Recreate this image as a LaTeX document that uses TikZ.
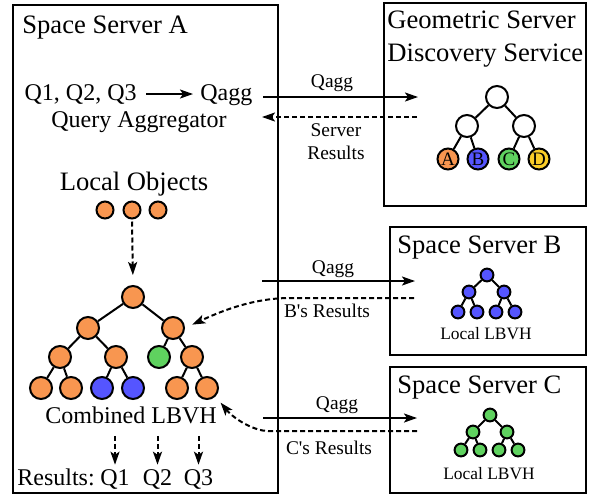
\documentclass[tikz,border=0pt]{standalone}
\usepackage{fontspec}
\setmainfont{Liberation Serif}
\usetikzlibrary{arrows.meta,positioning}

\definecolor{nodeorange}{RGB}{248,150,80}
\definecolor{nodeblue}{RGB}{85,85,255}
\definecolor{nodegreen}{RGB}{95,210,95}
\definecolor{nodeyellow}{RGB}{250,205,40}

\begin{document}
\begin{tikzpicture}[x=0.5pt, y=0.5pt,
  box/.style={draw, line width=1pt},
  title/.style={anchor=base west, inner sep=0pt, font=\fontsize{13.3}{16.5}\selectfont},
  lbl/.style={anchor=base, inner sep=0pt, font=\fontsize{12}{14}\selectfont},
  msg/.style={anchor=base, inner sep=0pt, font=\fontsize{9.7}{11.5}\selectfont},
  obj/.style={circle, draw, line width=1pt, fill=nodeorange, minimum size=11pt, inner sep=0pt},
  loc/.style={obj, minimum size=8.5pt},
  gnode/.style={circle, draw, line width=1pt, fill=white, minimum size=11pt, inner sep=0pt,
    font=\fontsize{9.5}{10}\selectfont},
  tiny/.style={circle, draw, line width=1pt, minimum size=6.4pt, inner sep=0pt},
  edge/.style={line width=1pt},
  arr/.style={-{Stealth[length=6.5pt, width=4.5pt, inset=1.5pt]}, line width=1pt},
  dasharr/.style={arr, dash pattern=on 2.5pt off 1.5pt},
]
\useasboundingbox (0,0) rectangle (593,495);

% Server boxes
\draw[box] (13,2) rectangle (278,490);
\draw[box] (384,289) rectangle (586,492);
\draw[box] (390,140) rectangle (586,268);
\draw[box] (390,2) rectangle (586,128);

% Titles
\node[title] (ta) at (22,462) {Space Server A};
\node[title, anchor=north west, align=left] (tg) at (387,485) {Geometric Server\\Discovery Service};
\node[title] (tb) at (397,242) {Space Server B};
\node[title] (tc) at (397,102) {Space Server C};

% Query aggregator
\node[lbl, anchor=base east, inner xsep=4.5pt] (qs) at (146,395) {Q1, Q2, Q3};
\node[lbl, anchor=base west, inner xsep=3.5pt] (qagg) at (193,395) {Qagg};
\node[lbl] (aggr) at (139,368) {Query Aggregator};
\draw[arr] (qs.east) -- (qs.east -| qagg.west);

% Local objects
\node[lbl, font=\fontsize{13.3}{16}\selectfont] (lobj) at (134,305) {Local Objects};
\node[loc] (lo1) at (105,285) {};
\node[loc] (lo2) at (132,285) {};
\node[loc] (lo3) at (158,285) {};

% Combined LBVH
\node[obj] (c-root) at (133,198) {};
\node[obj] (c-l1) at (88,167) {};
\node[obj] (c-r2) at (173,167) {};
\node[obj] (c-a) at (60,138) {};
\node[obj] (c-b) at (116,138) {};
\node[obj, fill=nodegreen] (c-c) at (159,138) {};
\node[obj] (c-d) at (192,138) {};
\node[obj] (c-l1a) at (41,107) {};
\node[obj] (c-l2a) at (71,107) {};
\node[obj, fill=nodeblue] (c-l3) at (102,107) {};
\node[obj, fill=nodeblue] (c-l4) at (133,107) {};
\node[obj] (c-l5) at (177,107) {};
\node[obj] (c-l6) at (207,107) {};
\draw[edge] (c-root) -- (c-l1) (c-root) -- (c-r2);
\draw[edge] (c-l1) -- (c-a) (c-l1) -- (c-b) (c-r2) -- (c-c) (c-r2) -- (c-d);
\draw[edge] (c-a) -- (c-l1a) (c-a) -- (c-l2a) (c-b) -- (c-l3) (c-b) -- (c-l4);
\draw[edge] (c-d) -- (c-l5) (c-d) -- (c-l6);
\draw[dasharr, shorten <=1pt, shorten >=5pt] (lo2.south) -- (c-root.north);
\node[lbl] (comb) at (131,72) {Combined LBVH};

% Results
\node[lbl, anchor=base west] (res) at (17,10) {Results:};
\node[lbl] (q1) at (115,10) {Q1};
\node[lbl] (q2) at (157.5,10) {Q2};
\node[lbl] (q3) at (198.5,10) {Q3};
\draw[dasharr, shorten <=6pt, shorten >=2pt] (q1 |- comb.south) -- (q1);
\draw[dasharr, shorten <=6pt, shorten >=2pt] (q2 |- comb.south) -- (q2);
\draw[dasharr, shorten <=6pt, shorten >=2pt] (q3 |- comb.south) -- (q3);

% Geometric server discovery tree
\node[gnode] (g-root) at (497,398) {};
\node[gnode] (g-l) at (467,369) {};
\node[gnode] (g-r) at (524,369) {};
\node[gnode, fill=nodeorange, minimum size=10.5pt] (g-a) at (448,336) {A};
\node[gnode, fill=nodeblue, minimum size=10.5pt] (g-b) at (478,336) {B};
\node[gnode, fill=nodegreen, minimum size=10.5pt] (g-c) at (509,336) {C};
\node[gnode, fill=nodeyellow, minimum size=10.5pt] (g-d) at (539,336) {D};
\draw[edge] (g-root) -- (g-l) (g-root) -- (g-r);
\draw[edge] (g-l) -- (g-a) (g-l) -- (g-b) (g-r) -- (g-c) (g-r) -- (g-d);

% Space server B tree
\node[tiny, fill=nodeblue] (b-root) at (487,220) {};
\node[tiny, fill=nodeblue] (b-l) at (469,203) {};
\node[tiny, fill=nodeblue] (b-r) at (504,203) {};
\node[tiny, fill=nodeblue] (b-1) at (458,183) {};
\node[tiny, fill=nodeblue] (b-2) at (477,183) {};
\node[tiny, fill=nodeblue] (b-3) at (496,183) {};
\node[tiny, fill=nodeblue] (b-4) at (515,183) {};
\draw[edge] (b-root) -- (b-l) (b-root) -- (b-r);
\draw[edge] (b-l) -- (b-1) (b-l) -- (b-2) (b-r) -- (b-3) (b-r) -- (b-4);
\node[msg, font=\fontsize{8.7}{10}\selectfont] (b-lbvh) at (486,156) {Local LBVH};

% Space server C tree
\node[tiny, fill=nodegreen] (s-root) at (490,80) {};
\node[tiny, fill=nodegreen] (s-l) at (473,63) {};
\node[tiny, fill=nodegreen] (s-r) at (507,63) {};
\node[tiny, fill=nodegreen] (s-1) at (461,45) {};
\node[tiny, fill=nodegreen] (s-2) at (480,45) {};
\node[tiny, fill=nodegreen] (s-3) at (499,45) {};
\node[tiny, fill=nodegreen] (s-4) at (518,45) {};
\draw[edge] (s-root) -- (s-l) (s-root) -- (s-r);
\draw[edge] (s-l) -- (s-1) (s-l) -- (s-2) (s-r) -- (s-3) (s-r) -- (s-4);
\node[msg, font=\fontsize{8.7}{10}\selectfont] (s-lbvh) at (489,16) {Local LBVH};

% Messages between servers
\coordinate (gq-from) at (263,398);
\coordinate (gq-to) at (418,398);
\coordinate (gr-from) at (417,378);
\coordinate (gr-to) at (262,378);
\draw[arr] (gq-from) -- (gq-to);
\draw[dasharr] (gr-from) -- (gr-to);
\node[msg] (gq-lbl) at (332,408) {Qagg};
\node[msg, anchor=north, align=center] (gr-lbl) at (336,372) {Server\\Results};

\coordinate (bq-from) at (262,214);
\coordinate (bq-to) at (415,214);
\coordinate (br-from) at (414,197);
\coordinate (br-bend) at (290,197);
\draw[arr] (bq-from) -- (bq-to);
\draw[dasharr, shorten >=4pt] (br-from) -- (br-bend) .. controls (250,197) and (215,181) .. (c-r2.east);
\node[msg] (bq-lbl) at (333,222) {Qagg};
\node[msg] (br-lbl) at (327,178) {B\textquotesingle s Results};

\coordinate (sq-from) at (263,77);
\coordinate (sq-to) at (417,77);
\coordinate (sr-from) at (417,64);
\coordinate (sr-bend) at (268,64);
\draw[arr] (sq-from) -- (sq-to);
\draw[dasharr, shorten >=4pt] (sr-from) -- (sr-bend) .. controls (255,64) and (235,75) .. (c-l6.south east);
\node[msg] (sq-lbl) at (337,86) {Qagg};
\node[msg] (sr-lbl) at (329,41) {C\textquotesingle s Results};
\end{tikzpicture}
\end{document}
